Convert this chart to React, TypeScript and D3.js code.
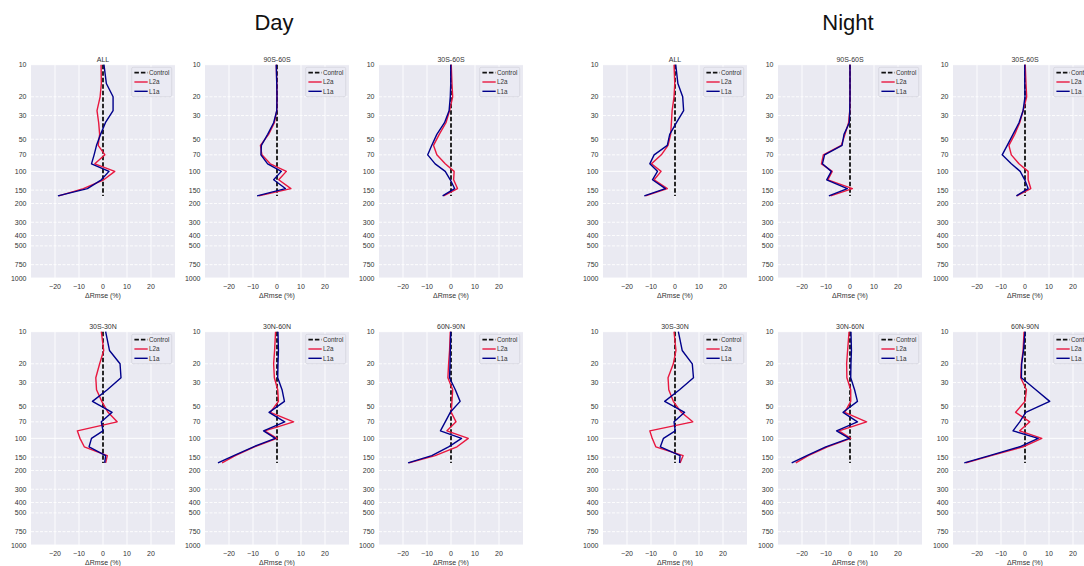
import React from 'react';
import * as d3 from 'd3';

// pressure levels (hPa) of the profiles
const levels = [10, 15, 20, 27, 35, 45, 57, 70, 85, 100, 120, 145, 170];
const regions = ['ALL', '90S-60S', '30S-60S', '30S-30N', '30N-60N', '60N-90N'];

const dayL2a = [
  [-0.8, -0.7, -1.2, -2.5, -1.8, -1.4, -2.0, 0.8, -3.4, 4.9, 0.3, -8.2, -18.4],
  [-0.3, -0.1, 0, -0.1, -1.1, -3.5, -6.9, -6.3, -2.8, 3.9, 0.7, 5.8, -7.6],
  [0.1, 0.4, 0.7, -0.6, -2.1, -4.9, -7.3, -5.9, -2.4, 1.3, 1.1, 2.7, -3.1],
  [-0.7, 0.3, -1.4, -3.0, -2.7, -0.5, 2.1, 5.9, -10.7, -9.6, -7.8, 1.8, 1.1],
  [-0.6, -1.0, -1.4, -1.1, 0.3, 0.6, -2.8, 6.9, -5.1, 0, -9.4, -17.4, -22.9],
  [-0.3, -0.6, -1.0, -1.3, 0.7, 0.4, 0.1, 2.1, -1.7, 7.2, 2.5, -6.6, -17.5],
];
const dayL1a = [
  [0.4, 1.4, 4.2, 4.2, 1.0, -1.0, -2.7, -3.7, -4.8, 2.5, -0.7, -6.5, -18.8],
  [-0.3, -0.1, 0, -0.1, -1.4, -3.9, -6.5, -6.7, -3.9, 1.8, -1.4, 3.5, -8.3],
  [-0.1, -0.1, -0.3, -0.8, -2.7, -5.9, -8.0, -9.7, -6.6, -2.4, -0.3, 1.5, -3.5],
  [1.1, 2.7, 7.1, 7.5, 1.8, -4.4, 3.8, -0.7, 0, -4.8, -5.8, 1.1, 0.7],
  [0.4, 0.6, 0.4, 0.3, 2.1, 3.1, -3.3, 3.2, -5.6, -0.7, -9.8, -18.0, -24.6],
  [-0.1, -0.3, -0.4, -0.6, 1.8, 3.8, -0.3, -2.4, -4.4, 4.4, -1.0, -8.0, -17.9],
];
const nightL2a = [
  [-0.4, -0.1, -0.4, -1.2, -1.5, -1.8, -2.9, -5.7, -9.8, -5.8, -8.7, -3.2, -12.3],
  [0, 0, 0, -0.1, -0.6, -2.1, -3.6, -11.1, -11.9, -7.4, -9.2, 1.0, -8.1],
  [0.1, 0.4, 0.7, -0.8, -2.2, -4.3, -6.7, -5.7, -2.5, 1.3, 1.3, 2.4, -3.4],
  [-0.4, 0.4, -0.7, -2.9, -2.6, -0.7, 2.6, 7.4, -10.5, -9.5, -8.0, 3.4, 2.1],
  [-0.4, -1.0, -1.4, -1.3, 0.3, 0.3, -2.2, 6.9, -4.6, 0.3, -9.4, -17.4, -22.6],
  [-0.4, -0.8, -1.5, -1.8, 0.6, 0, -3.9, 2.0, -2.2, 7.0, -0.8, -14.1, -24.6],
];
const nightL1a = [
  [0.3, 1.2, 3.2, 3.6, 0.6, -2.2, -3.2, -8.7, -10.5, -7.3, -9.4, -4.0, -12.8],
  [0, 0, 0, -0.1, -0.3, -2.5, -3.3, -10.6, -11.5, -7.8, -9.7, -1.1, -8.8],
  [-0.1, -0.1, 0, -0.8, -2.5, -5.0, -7.4, -9.5, -5.7, -2.0, -0.1, 1.3, -3.6],
  [1.4, 3.0, 7.2, 7.7, 1.9, -4.3, 4.0, -0.4, 0.1, -4.8, -6.1, 2.1, 1.9],
  [0.4, 0.6, 0.4, 0.3, 1.9, 3.1, -2.9, 3.1, -5.6, -0.3, -10.1, -18.0, -24.3],
  [0, -0.6, -1.4, -1.5, 4.5, 10.3, 0.3, -2.2, -5.0, 5.5, -2.2, -14.8, -25.3],
];

const yTicks = [10, 20, 30, 50, 70, 100, 150, 200, 300, 400, 500, 750, 1000];
const yMajor = [10, 100, 1000];
const xTicks = [-20, -10, 0, 10, 20];

const W = 1084;
const H = 566;
const pw = 144;
const ph = 213.3;
const rowTops = [64.7, 331.7];
const dayLefts = [31, 205, 379];
const nightLefts = [603, 778, 953];

const RED = '#e8173f';
const BLUE = '#00008b';
const TXT = '#333333';
const FONT = "'Liberation Sans', Arial, sans-serif";
const fmt = d3.format('d');

function Panel({ left, top, title, l2a, l1a }) {
  const x = d3.scaleLinear().domain([-30, 30]).range([left, left + pw]);
  const y = d3.scaleLog().domain([10, 1000]).range([top, top + ph]);
  const line = d3.line().x(d => x(d[0])).y(d => y(d[1]));
  const ctrl = levels.map(p => [0, p]);
  const redPts = levels.map((p, i) => [l2a[i], p]);
  const bluePts = levels.map((p, i) => [l1a[i], p]);
  const lx = left + pw - 43.3;
  const ly = top + 2.6;
  return (
    <g>
      <rect x={left} y={top} width={pw} height={ph} fill="#eaeaf2" />
      {xTicks.map(t => (
        <line key={'gx' + t} x1={x(t)} x2={x(t)} y1={top} y2={top + ph} stroke="#fff" strokeWidth={0.9} />
      ))}
      {yTicks.map(t => (
        <line key={'gy' + t} x1={left} x2={left + pw} y1={y(t)} y2={y(t)} stroke="#fff"
          strokeWidth={0.9} strokeDasharray={yMajor.includes(t) ? null : '3,1.5'} />
      ))}
      {yTicks.map(t => (
        <text key={'ty' + t} x={left - 4.5} y={y(t) + 2.5} textAnchor="end" fontSize={7} fill={TXT}>{t}</text>
      ))}
      {xTicks.map(t => (
        <text key={'tx' + t} x={x(t)} y={top + ph + 11} textAnchor="middle" fontSize={7} fill={TXT}>{fmt(t)}</text>
      ))}
      <text x={left + pw / 2} y={top + ph + 20} textAnchor="middle" fontSize={7} fill={TXT}>ΔRmse (%)</text>
      <text x={left + pw / 2} y={top - 3} textAnchor="middle" fontSize={7} fill={TXT}>{title}</text>
      <path d={line(ctrl)} fill="none" stroke="#111" strokeWidth={1.8} strokeDasharray="4.5,2" />
      <path d={line(redPts)} fill="none" stroke={RED} strokeWidth={1.4} strokeLinejoin="round" />
      <path d={line(bluePts)} fill="none" stroke={BLUE} strokeWidth={1.4} strokeLinejoin="round" />
      <rect x={lx} y={ly} width={40} height={29.4} rx={1.5} fill="#eaeaf2" fillOpacity={0.8} stroke="#cfcfd6" strokeWidth={0.6} />
      {[['Control', '#111', '4.5,2'], ['L2a', RED, null], ['L1a', BLUE, null]].map((e, i) => (
        <g key={e[0]}>
          <line x1={lx + 2.7} x2={lx + 16} y1={ly + 5.4 + i * 9.3} y2={ly + 5.4 + i * 9.3} stroke={e[1]}
            strokeWidth={e[2] ? 1.8 : 1.4} strokeDasharray={e[2]} />
          <text x={lx + 17.3} y={ly + 7.6 + i * 9.3} fontSize={6.3} fill={TXT}>{e[0]}</text>
        </g>
      ))}
    </g>
  );
}

export default function App() {
  const panels = [];
  regions.forEach((r, i) => {
    const row = Math.floor(i / 3);
    const col = i % 3;
    panels.push(<Panel key={'d' + r} left={dayLefts[col]} top={rowTops[row]} title={r} l2a={dayL2a[i]} l1a={dayL1a[i]} />);
    panels.push(<Panel key={'n' + r} left={nightLefts[col]} top={rowTops[row]} title={r} l2a={nightL2a[i]} l1a={nightL1a[i]} />);
  });
  return (
    <svg width={W} height={H} style={{ position: 'absolute', left: 0, top: 0, background: '#fff' }} fontFamily={FONT}>
      <rect width={W} height={H} fill="#fff" />
      <text x={274} y={30} textAnchor="middle" fontSize={22} fill="#111">Day</text>
      <text x={848} y={30} textAnchor="middle" fontSize={22} fill="#111">Night</text>
      {panels}
    </svg>
  );
}
